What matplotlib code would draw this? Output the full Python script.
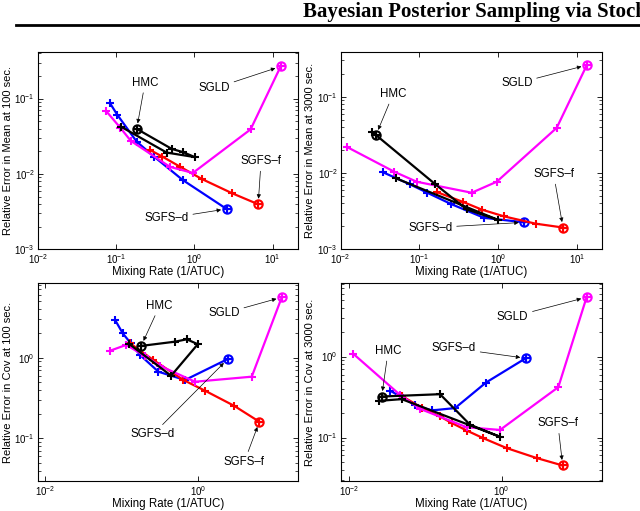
import matplotlib
matplotlib.use('Agg')
import matplotlib.pyplot as plt
from matplotlib.lines import Line2D
from matplotlib.ticker import LogLocator, FixedLocator, NullLocator, LogFormatterSciNotation

plt.rcParams['font.family'] = ['Liberation Sans', 'DejaVu Sans']
plt.rcParams['mathtext.fontset'] = 'custom'
plt.rcParams['mathtext.rm'] = 'Liberation Sans'
plt.rcParams['mathtext.it'] = 'Liberation Sans:italic'

#################################################
# relative error in mean, 100 sec
m100_sgld_x = [0.0745, 0.114, 0.155, 0.49, 0.96, 5.25, 12.7]
m100_sgld_y = [0.0687, 0.0408, 0.0274, 0.0124, 0.0103, 0.039, 0.266]
m100_sgfsd_x = [0.0838, 0.104, 0.184, 0.306, 0.711, 2.59]
m100_sgfsd_y = [0.0869, 0.0608, 0.0268, 0.0170, 0.00832, 0.00343]
m100_sgfsf_x = [0.272, 0.390, 0.656, 1.24, 3.05, 6.56]
m100_sgfsf_y = [0.0208, 0.0170, 0.0125, 0.0086, 0.00554, 0.00396]
m100_hmc_x = [0.184, 0.515, 0.724, 1.02, 0.444, 0.115]
m100_hmc_y = [0.0396, 0.0215, 0.0194, 0.0167, 0.0192, 0.0425]

# relative error in mean, 3000 sec
m3000_sgld_x = [0.0119, 0.048, 0.0925, 0.462, 0.96, 5.56, 13.4]
m3000_sgld_y = [0.0221, 0.0104, 0.00769, 0.00552, 0.00769, 0.0392, 0.260]
m3000_sgfsd_x = [0.0348, 0.076, 0.126, 0.252, 0.662, 2.15]
m3000_sgfsd_y = [0.0102, 0.00711, 0.00552, 0.00393, 0.00259, 0.00226]
m3000_sgfsf_x = [0.166, 0.361, 0.619, 1.18, 2.99, 6.68]
m3000_sgfsf_y = [0.00564, 0.00417, 0.00332, 0.00271, 0.00217, 0.00193]
m3000_hmc_x = [0.0248, 0.0281, 0.158, 0.399, 1.01, 0.0504]
m3000_hmc_y = [0.0348, 0.0315, 0.00718, 0.00334, 0.00242, 0.00853]

# relative error in cov, 100 sec
c100_sgld_x = [0.0703, 0.114, 0.201, 0.316, 0.904, 4.95, 12.2]
c100_sgld_y = [1.22, 1.44, 1.05, 0.79, 0.504, 0.582, 5.6]
c100_sgfsd_x = [0.0818, 0.103, 0.131, 0.173, 0.300, 0.668, 2.41]
c100_sgfsd_y = [2.93, 2.0, 1.51, 1.08, 0.671, 0.529, 0.963]
c100_sgfsf_x = [0.128, 0.258, 0.636, 1.22, 2.91, 6.22]
c100_sgfsf_y = [1.51, 0.936, 0.529, 0.39, 0.254, 0.161]
c100_hmc_x = [0.179, 0.495, 0.703, 0.98, 0.44, 0.126]
c100_hmc_y = [1.40, 1.58, 1.69, 1.47, 0.598, 1.47]

# relative error in cov, 3000 sec
c3000_sgld_x = [0.0113, 0.0462, 0.0847, 0.347, 0.95, 5.53, 13.0]
c3000_sgld_y = [1.08, 0.337, 0.226, 0.134, 0.124, 0.419, 5.41]
c3000_sgfsd_x = [0.0342, 0.0729, 0.12, 0.244, 0.622, 2.07]
c3000_sgfsd_y = [0.38, 0.253, 0.216, 0.231, 0.478, 0.955]
c3000_sgfsf_x = [0.0487, 0.089, 0.155, 0.221, 0.347, 0.574, 1.16, 2.88, 6.31]
c3000_sgfsf_y = [0.327, 0.233, 0.182, 0.151, 0.122, 0.098, 0.074, 0.0557, 0.0451]
c3000_hmc_x = [0.0266, 0.155, 0.384, 0.95, 0.0487, 0.0248]
c3000_hmc_y = [0.321, 0.343, 0.144, 0.102, 0.298, 0.284]

ylabels = ['Relative Error in Mean at 100 sec.', 'Relative Error in Mean at 3000 sec.',
           'Relative Error in Cov at 100 sec.', 'Relative Error in Cov at 3000 sec.']
xlabel = 'Mixing Rate (1/ATUC)'
title = 'Bayesian Posterior Sampling via Stochastic Gradient Fisher Scoring'
#################################################

fig = plt.figure(figsize=(6.4, 5.11), dpi=100)
fig.text(303/640, 1-17/511, title, fontfamily='Liberation Serif', fontweight='bold',
         fontsize=15, va='baseline', ha='left')
fig.add_artist(Line2D([16/640, 1.0], [1-25/511, 1-25/511], color='k', lw=2))

boxes = [[0.0589, 0.5121, 0.4063, 0.3855], [0.5323, 0.5121, 0.4078, 0.3867],
         [0.0589, 0.0587, 0.4063, 0.3869], [0.5323, 0.0587, 0.4078, 0.3869]]
xlims = [(0.01, 21), (0.01, 20.7), (0.008, 19.7), (0.0077, 20.5)]
ylims = [(1e-3, 0.41), (1e-3, 0.39), (0.0297, 8.35), (0.029, 8.05)]
ylab_x = [-0.094, -0.098, -0.094, -0.098]

panels = [
    (m100_sgld_x, m100_sgld_y, m100_sgfsd_x, m100_sgfsd_y, m100_sgfsf_x, m100_sgfsf_y, m100_hmc_x, m100_hmc_y, 0),
    (m3000_sgld_x, m3000_sgld_y, m3000_sgfsd_x, m3000_sgfsd_y, m3000_sgfsf_x, m3000_sgfsf_y, m3000_hmc_x, m3000_hmc_y, 1),
    (c100_sgld_x, c100_sgld_y, c100_sgfsd_x, c100_sgfsd_y, c100_sgfsf_x, c100_sgfsf_y, c100_hmc_x, c100_hmc_y, 0),
    (c3000_sgld_x, c3000_sgld_y, c3000_sgfsd_x, c3000_sgfsd_y, c3000_sgfsf_x, c3000_sgfsf_y, c3000_hmc_x, c3000_hmc_y, 0),
]

# label text positions (axes fraction): HMC, SGLD, SGFS-f, SGFS-d
label_pos = [
    {'HMC': (0.413, 0.846), 'SGLD': (0.679, 0.817), 'SGFS\u2013f': (0.859, 0.448), 'SGFS\u2013d': (0.496, 0.157)},
    {'HMC': (0.201, 0.786), 'SGLD': (0.675, 0.840), 'SGFS\u2013f': (0.816, 0.381), 'SGFS\u2013d': (0.344, 0.109)},
    {'HMC': (0.469, 0.887), 'SGLD': (0.717, 0.848), 'SGFS\u2013f': (0.795, 0.098), 'SGFS\u2013d': (0.443, 0.236)},
    {'HMC': (0.182, 0.658), 'SGLD': (0.659, 0.831), 'SGFS\u2013f': (0.832, 0.292), 'SGFS\u2013d': (0.434, 0.671)},
]

def draw_series(ax, x, y, color, mark):
    ax.plot(x, y, color=color, lw=1.6, marker='+', ms=6, mew=1.5)
    ax.plot(x[mark], y[mark], color=color, marker='o', ms=6, mfc='none', mew=1.5)
    ax.plot(x[mark], y[mark], color=color, marker='+', ms=4.5, mew=0.8)

for i in range(4):
    sx, sy, dx, dy, fx, fy, hx, hy, hmark = panels[i]
    ax = fig.add_axes(boxes[i])
    ax.set_xscale('log')
    ax.set_yscale('log')
    draw_series(ax, dx, dy, '#0000ff', -1)
    draw_series(ax, fx, fy, '#ff0000', -1)
    draw_series(ax, sx, sy, '#ff00ff', -1)
    draw_series(ax, hx, hy, 'k', hmark)
    ax.set_xlim(xlims[i])
    ax.set_ylim(ylims[i])
    if i < 2:
        ax.xaxis.set_major_locator(FixedLocator([1e-2, 1e-1, 1e0, 1e1]))
    else:
        ax.xaxis.set_major_locator(FixedLocator([1e-2, 1e0]))
    ax.xaxis.set_major_formatter(LogFormatterSciNotation())
    ax.xaxis.set_minor_locator(NullLocator())
    ax.yaxis.set_minor_locator(LogLocator(base=10, subs=range(2, 10), numticks=20))
    ax.tick_params(which='both', direction='in', top=True, right=True, labelsize=7, pad=2)
    ax.tick_params(which='major', length=3.5, width=0.6)
    ax.tick_params(which='minor', length=2, width=0.5)
    for s in ax.spines.values():
        s.set_linewidth(0.8)
    ax.set_xlabel(xlabel, fontsize=8.3, labelpad=0)
    ax.set_ylabel(ylabels[i], fontsize=8)
    ax.yaxis.set_label_coords(ylab_x[i], 0.5)

    targets = {'HMC': (hx[hmark], hy[hmark]), 'SGLD': (sx[-1], sy[-1]),
               'SGFS\u2013f': (fx[-1], fy[-1]), 'SGFS\u2013d': (dx[-1], dy[-1])}
    for name, pos in label_pos[i].items():
        ax.annotate(name, xy=targets[name], xycoords='data', xytext=pos, textcoords='axes fraction',
                    ha='center', va='center', fontsize=8.3,
                    arrowprops=dict(arrowstyle='-|>', color='k', lw=0.5, mutation_scale=6,
                                    shrinkA=1, shrinkB=4))

fig.savefig('out.png', dpi=100)
print("saved")
